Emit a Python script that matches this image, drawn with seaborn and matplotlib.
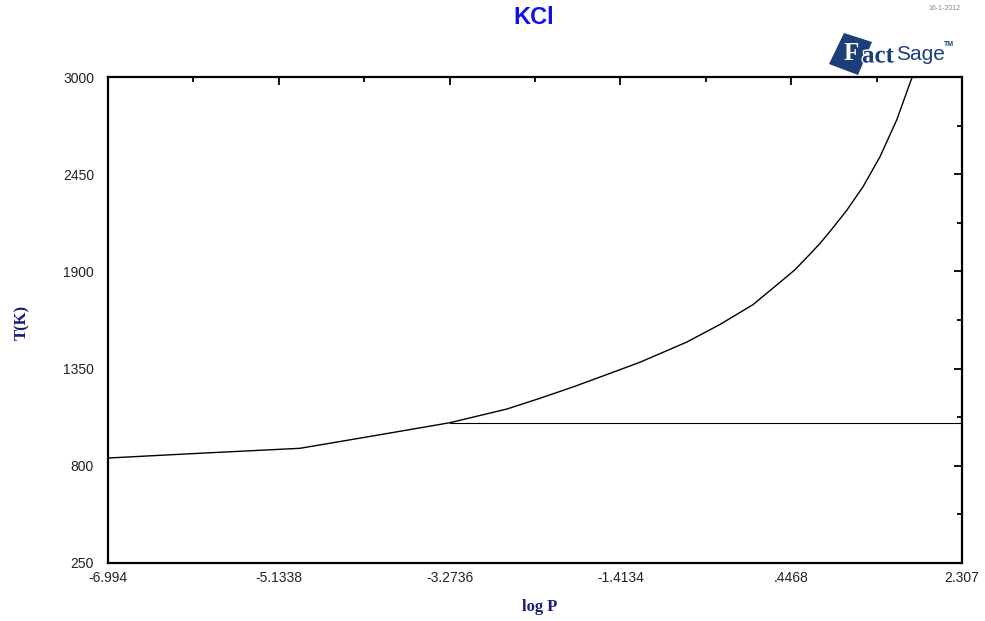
import matplotlib
matplotlib.use("Agg")
import matplotlib.pyplot as plt
import matplotlib.patheffects as pe
from matplotlib.patches import Polygon
from matplotlib.ticker import FixedLocator
import pandas as pd
import seaborn as sns

# Vapour-pressure (sublimation / boiling) curve of KCl
log_p_vap = [-6.994, -5.992, -4.903, -4.086, -3.269, -2.652, -2.289, -1.930,
             -1.563, -1.200, -0.691, -0.328, 0.031, 0.398, 0.489, 0.688,
             0.760, 0.869, 1.051, 1.229, 1.414, 1.596, 1.759, 1.773]
temp_vap = [844, 871, 899, 971, 1044, 1121, 1182, 1246,
            1316, 1386, 1500, 1600, 1712, 1870, 1910, 2018,
            2058, 2126, 2245, 2379, 2549, 2757, 2992, 3000]

# Melting line (solid / liquid boundary)
log_p_melt = [-3.2736, 2.307]
temp_melt = [1044, 1044]

x_major = [-6.994, -5.1338, -3.2736, -1.4134, 0.4468, 2.307]
x_labels = ["-6.994", "-5.1338", "-3.2736", "-1.4134", ".4468", "2.307"]
y_major = [250, 800, 1350, 1900, 2450, 3000]
y_labels = ["250", "800", "1350", "1900", "2450", "3000"]

W, H = 985, 621
sns.set_theme(style="white")
plt.rcParams["font.family"] = ["Liberation Sans", "DejaVu Sans"]

fig = plt.figure(figsize=(W / 100, H / 100), dpi=100)
ax = fig.add_axes([108 / W, 1 - 563 / H, (962 - 108) / W, (563 - 77) / H])

vap = pd.DataFrame({"logP": log_p_vap, "T": temp_vap})
melt = pd.DataFrame({"logP": log_p_melt, "T": temp_melt})
sns.lineplot(data=vap, x="logP", y="T", ax=ax, color="black", lw=1.0,
             sort=False, estimator=None)
sns.lineplot(data=melt, x="logP", y="T", ax=ax, color="black", lw=0.8,
             sort=False, estimator=None)

ax.set_xlim(x_major[0], x_major[-1])
ax.set_ylim(y_major[0], y_major[-1])

ax.xaxis.set_major_locator(FixedLocator(x_major))
ax.set_xticklabels(x_labels)
ax.xaxis.set_minor_locator(FixedLocator(
    [(a + b) / 2 for a, b in zip(x_major[:-1], x_major[1:])]))
ax.yaxis.set_major_locator(FixedLocator(y_major))
ax.set_yticklabels(y_labels)
ax.yaxis.set_minor_locator(FixedLocator(
    [(a + b) / 2 for a, b in zip(y_major[:-1], y_major[1:])]))

ax.tick_params(which="both", direction="in", top=True, right=True,
               color="black", width=1.3, labelsize=10, labelcolor="#222222")
ax.tick_params(which="major", length=6)
ax.tick_params(which="minor", length=3.5)
ax.tick_params(axis="x", pad=6)
ax.tick_params(axis="y", pad=10)

for sp in ax.spines.values():
    sp.set_color("black")
    sp.set_linewidth(1.6)

ax.set_xlabel("")
ax.set_ylabel("")

navy = "#1a1a7a"
fig.text(540 / W, 1 - 607 / H, "log P", ha="center", va="center",
         fontsize=12, fontweight="bold", color=navy, family="Liberation Serif")
fig.text(22 / W, 1 - 322 / H, "T(K)", ha="center", va="center", rotation=90,
         fontsize=12, fontweight="bold", color=navy, family="Liberation Serif")

fig.text(534 / W, 1 - 18 / H, "KCl", ha="center", va="center",
         fontsize=17, fontweight="bold", color="#1010ee")
fig.text(945 / W, 1 - 8 / H, "16-1-2012", ha="center", va="center",
         fontsize=5, color="#888888")

# FactSage logo
logo = "#1c3f7a"
corners = [(829, 64), (844, 33), (872, 42), (858, 75)]
fig.patches.append(Polygon([(x / W, 1 - y / H) for x, y in corners],
                           closed=True, transform=fig.transFigure,
                           facecolor=logo, edgecolor="none", zorder=0))
fig.text(851 / W, 1 - 54 / H, "F", ha="center", va="center", fontsize=18,
         fontweight="bold", color="white", family="Liberation Serif", zorder=5)
fig.text(862 / W, 1 - 56 / H, "act", ha="left", va="center", fontsize=18,
         fontweight="bold", color=logo, family="Liberation Serif", zorder=5,
         path_effects=[pe.withStroke(linewidth=2, foreground="white")])
fig.text(896 / W, 1 - 55 / H, "Sage", ha="left", va="center", fontsize=15,
         color=logo, zorder=5)
fig.text(944 / W, 1 - 44 / H, "TM", ha="left", va="center", fontsize=5,
         fontweight="bold", color=logo, zorder=5)

fig.savefig("out.png", dpi=100, facecolor="white")
